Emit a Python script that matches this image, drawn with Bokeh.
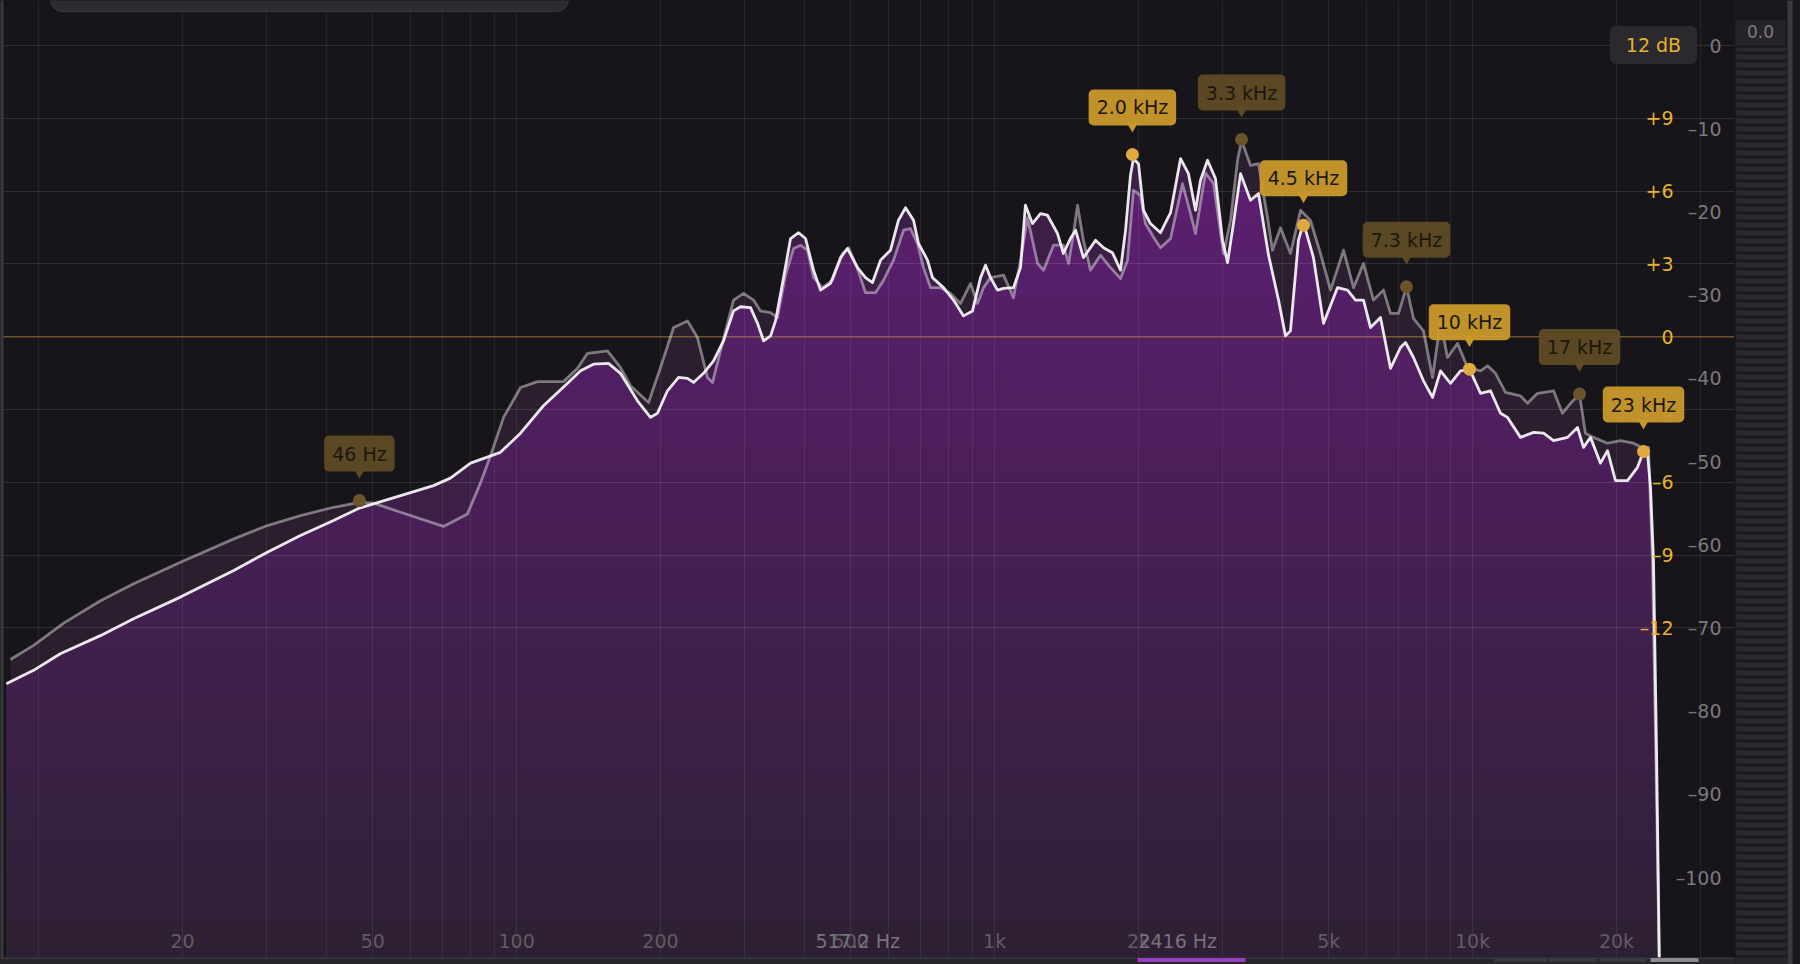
import numpy as np
from bokeh.plotting import figure
from bokeh.layouts import row
from bokeh.models import Range1d, Grid, FixedTicker, Span, ColumnDataSource, GlobalInlineStyleSheet
from bokeh.core.properties import value
from bokeh.embed import file_html
from bokeh.resources import INLINE

# ---------------- data ----------------
# post-EQ spectrum (bright white trace)
post_freq = [8.56, 9.76, 11.1, 13.5, 15.8, 19.8, 25.6, 30.1, 35.3, 41.4, 46.9, 57.2, 67.0, 72.7, 80.1,
             92.5, 101.9, 113.8, 127.8, 136.1, 144.8, 155.7, 164.9, 179.0, 190.6, 197.1, 206.8, 218.2,
             227.8, 234.5, 246.0, 258.2, 270.9, 284.3, 294.1, 308.6, 319.2, 328.6, 339.9, 348.1, 361.8,
             374.2, 388.9, 402.2, 418.0, 432.3, 453.6, 476.1, 492.4, 516.6, 536.9, 555.3, 577.2, 605.7,
             629.4, 651.2, 676.7, 693.1, 723.8, 741.4, 781.9, 820.4, 860.9, 899.0, 934.4, 957.1, 980.5,
             1014, 1044, 1095, 1133, 1160, 1200, 1247, 1290, 1354, 1393, 1441, 1477, 1534, 1587, 1626,
             1690, 1764, 1834, 1879, 1924, 1952, 2000, 2049, 2118, 2224, 2334, 2449, 2544, 2632, 2696,
             2789, 2898, 2998, 3071, 3160, 3270, 3430, 3565, 3742, 3926, 4060, 4159, 4322, 4428, 4646,
             4876, 5217, 5474, 5689, 5912, 6116, 6417, 6733, 7065, 7238, 7522, 7893, 8245, 8568, 8989,
             9434, 9852, 10388, 10900, 11437, 11832, 12596, 13414, 14075, 14768, 15795, 16573, 17061,
             17646, 18515, 19152, 19903, 21088, 22126, 22780, 23225, 23560, 23900, 24250, 24720]
post_db = [-76.7, -75.1, -73.1, -70.9, -68.9, -66.3, -63.1, -60.9, -58.9, -57.1, -55.6, -54.1, -52.9,
           -52.0, -50.2, -48.9, -46.6, -43.3, -40.6, -39.1, -38.3, -38.2, -39.4, -42.7, -44.7, -44.2,
           -41.5, -39.9, -40.0, -40.5, -39.4, -37.9, -35.5, -31.9, -31.4, -31.5, -33.4, -35.5, -34.9,
           -33.1, -27.9, -23.2, -22.5, -23.2, -27.0, -29.4, -28.6, -25.5, -24.4, -26.7, -27.9, -28.5,
           -25.8, -24.6, -21.0, -19.5, -21.0, -23.8, -25.8, -27.9, -29.1, -30.6, -32.5, -31.9, -27.9,
           -26.4, -27.9, -29.4, -29.2, -29.1, -26.7, -19.2, -21.4, -20.2, -20.4, -22.6, -25.0, -23.2,
           -22.2, -25.5, -24.3, -23.4, -24.3, -24.9, -27.0, -22.2, -15.6, -13.6, -14.2, -19.8, -21.4,
           -22.5, -20.1, -13.6, -15.4, -19.8, -16.2, -13.8, -16.0, -23.4, -26.1, -21.4, -15.4, -18.6,
           -17.8, -25.2, -30.6, -34.9, -34.3, -23.4, -21.3, -25.5, -33.4, -29.1, -29.4, -30.6, -30.6,
           -33.9, -32.7, -38.8, -36.3, -35.7, -37.5, -40.3, -42.3, -39.1, -40.6, -39.1, -38.9, -41.8,
           -41.5, -44.2, -44.7, -47.1, -46.5, -46.6, -47.5, -47.1, -45.9, -48.3, -47.1, -50.2, -48.7,
           -52.3, -52.3, -50.7, -48.8, -49.0, -53.1, -61.9, -84.7, -120.0]

# pre-EQ spectrum (grey / translucent trace)
pre_freq = [8.73, 9.76, 11.3, 13.5, 15.8, 19.8, 25.6, 30.1, 35.3, 41.4, 46.9, 50.2, 57.2, 70.3, 78.9,
            84.0, 88.2, 93.9, 101.9, 110.6, 125.3, 134.1, 140.7, 154.9, 164.9, 173.1, 188.8, 200.0,
            213.0, 227.8, 239.0, 250.8, 257.0, 267.0, 284.3, 298.4, 313.1, 323.8, 339.9, 351.4, 365.2,
            379.7, 392.6, 406.1, 418.0, 436.4, 458.0, 480.6, 494.7, 516.6, 536.9, 563.7, 585.7, 614.5,
            644.8, 666.8, 689.8, 710.0, 734.5, 770.5, 808.7, 848.6, 890.5, 921.1, 948.0, 980.5, 1044,
            1095, 1133, 1172, 1230, 1266, 1328, 1393, 1428, 1462, 1491, 1534, 1587, 1665, 1748, 1834,
            1897, 1952, 2019, 2068, 2170, 2224, 2334, 2472, 2570, 2632, 2762, 2871, 3012, 3116, 3222,
            3286, 3430, 3565, 3724, 3813, 3964, 4159, 4366, 4578, 4806, 5044, 5370, 5636, 5912, 6203,
            6511, 6733, 6998, 7272, 7522, 7893, 8245, 8568, 8860, 9300, 9757, 10388, 10745, 11168,
            11718, 12596, 13030, 13668, 14768, 15418, 16026, 16738, 17220, 17900, 19152, 20393, 21707,
            22780, 23334, 23785, 24250, 24720]
pre_db = [-73.8, -72.1, -69.4, -66.7, -64.7, -62.1, -59.3, -57.7, -56.5, -55.5, -54.9, -55.0, -56.1,
          -57.8, -56.3, -52.6, -49.3, -44.7, -41.1, -40.4, -40.4, -38.8, -37.0, -36.7, -38.7, -40.9,
          -42.9, -38.7, -33.9, -33.1, -35.1, -39.9, -40.5, -36.7, -30.6, -29.8, -30.6, -31.9, -32.1,
          -32.7, -27.6, -24.4, -24.0, -24.6, -27.9, -29.1, -28.2, -25.0, -24.3, -26.8, -29.7, -29.7,
          -28.2, -25.8, -22.2, -22.0, -23.8, -26.7, -29.1, -29.1, -29.8, -31.0, -28.6, -31.0, -29.1,
          -27.9, -27.6, -30.3, -25.8, -20.7, -26.2, -27.0, -24.0, -24.0, -26.2, -22.6, -19.2, -23.4,
          -27.0, -25.2, -26.7, -28.0, -25.8, -17.4, -18.0, -21.4, -23.4, -24.3, -23.2, -16.6, -20.2,
          -22.6, -15.3, -16.6, -25.0, -21.0, -13.8, -11.4, -14.4, -14.2, -20.7, -24.6, -21.9, -25.0,
          -19.8, -21.0, -25.0, -29.4, -24.6, -29.1, -26.2, -30.6, -29.4, -32.2, -32.2, -29.0, -32.8,
          -34.3, -39.9, -33.1, -37.5, -35.8, -38.7, -39.1, -38.5, -39.4, -41.7, -42.1, -43.0, -41.8,
          -41.5, -44.2, -43.0, -41.9, -46.6, -47.1, -47.8, -47.5, -47.8, -48.4, -48.3, -62.0, -90.0,
          -120.0]

# peak labels
peak_labels = ["46 Hz", "2.0 kHz", "3.3 kHz", "4.5 kHz", "7.3 kHz", "10 kHz", "17 kHz", "23 kHz"]
peak_freq = [46.9, 1942, 3286, 4428, 7272, 9852, 16738, 22780]
peak_db = [-54.7, -13.1, -11.3, -21.6, -29.0, -38.9, -41.9, -48.8]
peak_trace = ["pre", "post", "pre", "post", "pre", "post", "pre", "post"]

# axes
freq_ticks = [20, 50, 100, 200, 500, 1000, 2000, 5000, 10000, 20000]
freq_tick_labels = ["20", "50", "100", "200", "500", "1k", "2k", "5k", "10k", "20k"]
readout_freq = [517.2, 2416]
readout_labels = ["517.2 Hz", "2416 Hz"]
grid_freqs = [10, 20, 30, 40, 50, 60, 70, 80, 90, 100, 200, 300, 400, 500, 600, 700, 800, 900,
              1000, 2000, 3000, 4000, 5000, 6000, 7000, 8000, 9000, 10000, 20000, 30000]
level_ticks = [0, -10, -20, -30, -40, -50, -60, -70, -80, -90, -100]
level_tick_labels = ["0", "–10", "–20", "–30", "–40", "–50", "–60", "–70", "–80", "–90", "–100"]
eq_range = 12
eq_ticks = [9, 6, 3, 0, -3, -6, -9, -12]
eq_tick_labels = ["+9", "+6", "+3", "0", "–3", "–6", "–9", "–12"]
eq_grid_gains = [12, 9, 6, 3, -3, -6, -9, -12]
eq_range_label = "12 dB"
meter_readout = "0.0"

# ---------------- scale / layout constants (screen pixels) ----------------
PX_PER_DEC = 478.0      # px per frequency decade
X20_PX = 182.0          # x of 20 Hz
PX_PER_DB = 8.32        # px per dB of spectrum level
Y0_PX = 45.0            # y of 0 dB
LEFT_PX, RIGHT_PX, TOP_PX, BOTTOM_PX = 0, 1734, 0, 964
METER_W = 66
EQ_ZERO_DB = -35.0      # spectrum level where the EQ 0 dB line sits
EQ_SCALE = 35.0 / eq_range

def f_at(px):
    return 20.0 * 10 ** ((px - X20_PX) / PX_PER_DEC)

def db_at(py):
    return (Y0_PX - py) / PX_PER_DB

def eq_to_db(g):
    return EQ_ZERO_DB + g * EQ_SCALE

FONT = value("DejaVu Sans")
BG = "#17141a"
Y_MIN = db_at(BOTTOM_PX)
Y_MAX = db_at(TOP_PX)

p = figure(width=RIGHT_PX - LEFT_PX, height=BOTTOM_PX - TOP_PX, x_axis_type="log",
           x_range=Range1d(f_at(LEFT_PX), f_at(RIGHT_PX)), y_range=Range1d(Y_MIN, Y_MAX),
           output_backend="svg", toolbar_location=None, x_axis_location=None, y_axis_location=None,
           min_border=0, background_fill_color=BG, border_fill_color=BG, outline_line_color=None)
p.center = [r for r in p.center if not isinstance(r, Grid)]
p.stylesheets = [GlobalInlineStyleSheet(css="html, body { background: #1c1a1e; overflow: hidden; }")]

# ---------------- fills ----------------
lw = np.log10(np.array(post_freq, dtype=float))
lp = np.log10(np.array(pre_freq, dtype=float))
gl = np.union1d(lw, lp)
w_i = np.interp(gl, lw, post_db)
p_i = np.interp(gl, lp, pre_db)
both = np.minimum(w_i, p_i)
gf = 10 ** gl
FLOOR = Y_MIN - 10

r = p.varea(x=pre_freq, y1=FLOOR, y2=pre_db, fill_color="#2a1e2f")
r.level = "image"
r = p.varea(x=post_freq, y1=FLOOR, y2=post_db, fill_color="#3b1f47")
r.level = "image"

def hex2rgb(h):
    return np.array([int(h[i:i + 2], 16) for i in (1, 3, 5)], dtype=float)

stops = [(6.0, "#5f1f73"), (-20.0, "#5a1f6e"), (-112.0, "#2b2031")]
def grad_color(db):
    for (d0, c0), (d1, c1) in zip(stops[:-1], stops[1:]):
        if d1 <= db <= d0:
            t = (d0 - db) / (d0 - d1)
            c = hex2rgb(c0) * (1 - t) + hex2rgb(c1) * t
            return "#%02x%02x%02x" % tuple(int(round(v)) for v in c)
    return stops[-1][1] if db < stops[-1][0] else stops[0][1]

for top in np.arange(6.0, Y_MIN - 3, -3.0):
    r = p.varea(x=gf, y1=FLOOR, y2=np.minimum(both, top), fill_color=grad_color(top))
    r.level = "image"

# ---------------- grids ----------------
p.add_layout(Grid(dimension=0, ticker=FixedTicker(ticks=grid_freqs),
                  grid_line_color="#ffffff", grid_line_alpha=0.07, grid_line_width=1))
p.add_layout(Grid(dimension=1, ticker=FixedTicker(ticks=[eq_to_db(g) for g in eq_grid_gains]),
                  grid_line_color="#ffffff", grid_line_alpha=0.11, grid_line_width=1))
zero = Span(location=eq_to_db(0), dimension="width", line_color="#c8963c", line_alpha=0.5, line_width=1.6)
zero.level = "underlay"
p.add_layout(zero)

# ---------------- traces ----------------
p.line(pre_freq, pre_db, line_color="#ffffff", line_alpha=0.42, line_width=2.8, line_join="round")
p.line(post_freq, post_db, line_color="#f3eff5", line_alpha=0.96, line_width=2.8, line_join="round")

# ---------------- window chrome (edges, header, bottom bar) ----------------
p.quad(left=[f_at(-2)], right=[f_at(3)], top=[Y_MAX + 5], bottom=[Y_MIN - 5], fill_color="#3a393d", line_color=None)
p.quad(left=[f_at(50)], right=[f_at(568)], top=[db_at(-30)], bottom=[db_at(11)], fill_color="#2e2c32",
       line_color="#3a383e", line_width=1, border_radius=12)
p.quad(left=[f_at(-2)], right=[f_at(RIGHT_PX + 2)], top=[db_at(957)], bottom=[Y_MIN - 5],
       fill_color="#28262b", line_color=None)
p.quad(left=[f_at(-2)], right=[f_at(RIGHT_PX + 2)], top=[db_at(957)], bottom=[db_at(958.5)],
       fill_color="#38363c", line_color=None)
p.quad(left=[f_at(1137)], right=[f_at(1245)], top=[db_at(957.5)], bottom=[db_at(961.5)],
       fill_color="#9a3fc4", line_color=None)
p.quad(left=[f_at(a) for a in (1494, 1548, 1599)], right=[f_at(b) for b in (1546, 1596, 1646)],
       top=[db_at(957.5)] * 3, bottom=[db_at(961.5)] * 3, fill_color="#3b3940", line_color=None)
p.quad(left=[f_at(1650)], right=[f_at(1698)], top=[db_at(957.5)], bottom=[db_at(961.5)],
       fill_color="#8c8a90", line_color=None)

# ---------------- axis texts ----------------
p.text(x=[f_at(1721)] * len(level_ticks), y=level_ticks, text=level_tick_labels,
       text_align="right", text_baseline="middle", text_font=FONT, text_font_size="19px",
       text_color="#7b787e")
p.text(x=[f_at(1673)] * len(eq_ticks), y=[eq_to_db(g) for g in eq_ticks], text=eq_tick_labels,
       text_align="right", text_baseline="middle", text_font=FONT, text_font_size="19px",
       text_color="#e6b22e")
p.text(x=freq_ticks, y=[db_at(940)] * len(freq_ticks), text=freq_tick_labels,
       text_align="center", text_baseline="middle", text_font=FONT, text_font_size="19px",
       text_color="#605d63")
p.text(x=readout_freq, y=[db_at(940)] * len(readout_freq), text=readout_labels,
       text_align="center", text_baseline="middle", text_font=FONT, text_font_size="19px",
       text_color="#76737a")
p.text(x=[f_at(1653)], y=[db_at(44.5)], text=[eq_range_label], text_align="center",
       text_baseline="middle", text_font=FONT, text_font_size="19px", text_color="#e6b22e",
       background_fill_color="#2b292e", border_radius=6, padding=(16, 8))

# ---------------- peak tags ----------------
DOT = {"post": "#e0a941", "pre": "#6b5429"}
BOX = {"post": "#c9982b", "pre": "#5e4a23"}
POINTER_PX = 29
tags = ColumnDataSource(dict(
    x=peak_freq, y=peak_db, text=peak_labels,
    ptr=[d + POINTER_PX / PX_PER_DB for d in peak_db],
    dot=[DOT[t] for t in peak_trace], box=[BOX[t] for t in peak_trace]))
p.scatter("x", "y", source=tags, size=13, marker="circle", fill_color="dot", line_color=None)
p.scatter("x", "ptr", source=tags, size=12, marker="inverted_triangle", fill_color="box", line_color=None)
p.text("x", "y", text="text", source=tags, y_offset=-47, text_align="center", text_baseline="middle",
       text_font=FONT, text_font_size="19px", text_color="#1d180f",
       background_fill_color="box", background_fill_alpha=0.96, border_radius=5, padding=(8, 7))

# ---------------- level meter strip ----------------
H = BOTTOM_PX - TOP_PX
m = figure(width=METER_W, height=H, x_range=Range1d(0, METER_W), y_range=Range1d(H, 0),
           output_backend="svg", toolbar_location=None, x_axis_location=None, y_axis_location=None,
           min_border=0, background_fill_color="#1a181c", border_fill_color="#1a181c",
           outline_line_color=None)
m.center = [r for r in m.center if not isinstance(r, Grid)]
m.quad(left=[2], right=[52], top=[47], bottom=[957], fill_color="#2a282c", line_color=None,
       hatch_pattern="horizontal_line", hatch_color="#1c1a1e", hatch_weight=3, hatch_scale=8)
m.quad(left=[1], right=[51], top=[20], bottom=[45], fill_color="#262428", line_color=None)
m.quad(left=[53], right=[58], top=[0], bottom=[H], fill_color="#3a393e", line_color=None)
m.quad(left=[0], right=[53], top=[957], bottom=[H], fill_color="#28262b", line_color=None)
m.text(x=[26], y=[31], text=[meter_readout], text_align="center", text_baseline="middle",
       text_font=FONT, text_font_size="17px", text_color="#7d7a81")

layout = row(p, m)
open("out.html", "w").write(file_html(layout, INLINE))
